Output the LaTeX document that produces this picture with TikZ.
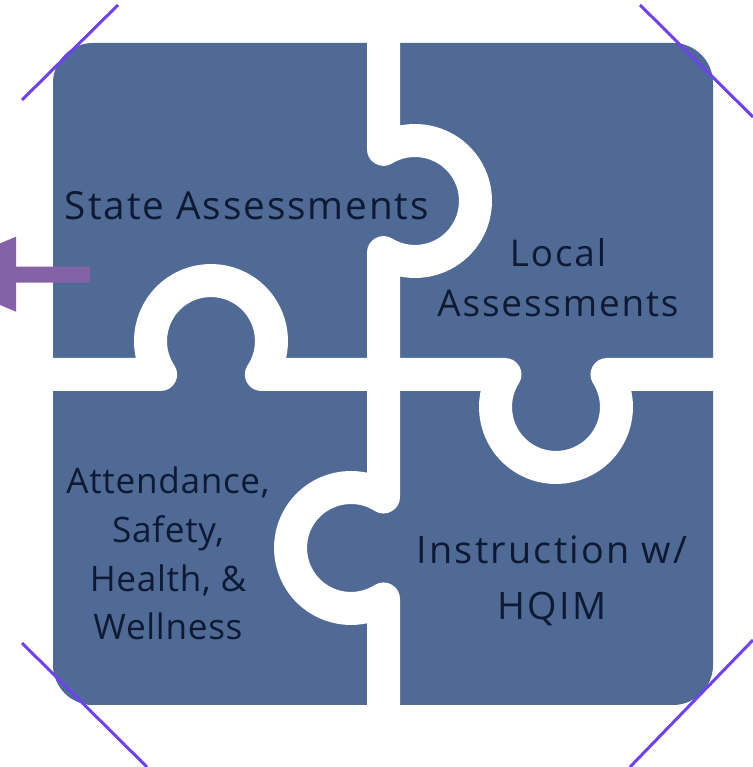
\documentclass[tikz,border=0pt]{standalone}
\usepackage{fontspec}
\setmainfont{Open Sans}
\newfontfamily\lblfontA[LetterSpace=5]{Open Sans}
\newfontfamily\lblfontB[LetterSpace=2]{Open Sans}
\newfontfamily\lblfontC[LetterSpace=6]{Open Sans}
\definecolor{piece}{HTML}{4F6A95}
\definecolor{ink}{HTML}{0E1A33}
\definecolor{frameline}{HTML}{6F42F0}
\definecolor{arrowfill}{HTML}{8562A8}
\tikzset{
  lbl/.style={text=ink, inner sep=0pt, align=center, anchor=base},
  cut/.style={draw=white, line width=0.66cm, line join=round},
  corner/.style={draw=frameline, line width=0.06cm},
}
\begin{document}
\begin{tikzpicture}[x=0.02cm,y=0.02cm]
\useasboundingbox (0,0) rectangle (753,767);
% puzzle body
\fill[piece, rounded corners=0.8cm] (53,62) rectangle (713,724);
% vertical cut with knobs A (right) and D (left)
\path[cut] (383.5,780) -- (383.5,617.64)
  arc[start angle=121.4, end angle=-121.4, radius=1.21cm] -- (383.5,270.03)
  arc[start angle=57.5, end angle=302.5, radius=1.21cm] -- (383.5,-15);
% horizontal cut with knobs B (up) and C (down)
\path[cut] (-15,392.5) -- (160.6,392.5)
  arc[start angle=213.6, end angle=-33.6, radius=1.21cm] -- (504.97,392.5)
  arc[start angle=147.5, end angle=392.5, radius=1.21cm] -- (770,392.5);
% labels
\node[lbl, font=\lblfontA\fontsize{22}{28}\selectfont] (state) at (247,547) {State Assessments};
\node[lbl, font=\lblfontA\fontsize{21}{28.9}\selectfont] (local) at (558,450) {Local\\Assessments};
\node[lbl, font=\lblfontB\fontsize{20}{27.8}\selectfont] (attend) at (168,127) {Attendance,\\Safety,\\Health, \&\\Wellness};
\node[lbl, font=\lblfontC\fontsize{21.5}{32.3}\selectfont] (instr) at (552,147) {Instruction w/\\HQIM};
% arrow
\fill[arrowfill] (0,462) -- (16,455.3) -- (16,484.3) -- (90,484.3) -- (90,500.3) -- (16,500.3) -- (16,530.3) -- (0,523.6) -- cycle;
% corner lines
\draw[corner] (118,762) -- (22,667);
\draw[corner] (640,762) -- (753,650);
\draw[corner] (22,124) -- (147,0);
\draw[corner] (753,127) -- (630,0);
\end{tikzpicture}
\end{document}
